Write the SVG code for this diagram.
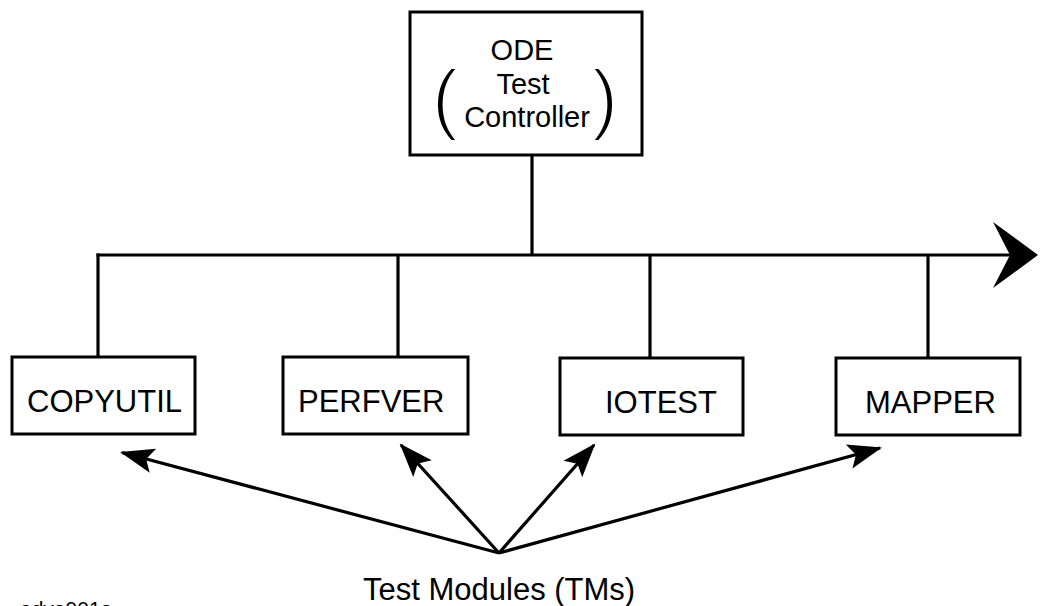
<svg xmlns="http://www.w3.org/2000/svg" width="1040" height="606" viewBox="0 0 1040 606">
<style>
.box{fill:#fff;stroke:#000;stroke-width:3}
.ln{fill:none;stroke:#000;stroke-width:3.2}
.t{font-family:"Liberation Sans",Arial,sans-serif;fill:#000}
.lbl{font-size:31px}
.top{font-size:29px;text-anchor:middle}
.par{font-size:78px;stroke:#fff;stroke-width:2.2px}
</style>
<defs>
<marker id="ah" markerUnits="userSpaceOnUse" markerWidth="40" markerHeight="30" viewBox="-36 -14 40 28" refX="0" refY="0" orient="auto">
<path d="M2,0 L-32,-12.5 L-25,0 L-32,12.5 Z" fill="#000"/>
</marker>
</defs>
<g id="connectors">
<line class="ln" x1="532" y1="155" x2="532" y2="255"/>
<line class="ln" x1="96.5" y1="255" x2="1012" y2="255"/>
<path d="M1038,255 L993,222 L1010,255 L993,288 Z" fill="#000"/>
<line class="ln" x1="98" y1="253.5" x2="98" y2="357"/>
<line class="ln" x1="398" y1="255" x2="398" y2="357"/>
<line class="ln" x1="650" y1="255" x2="650" y2="358"/>
<line class="ln" x1="928" y1="255" x2="928" y2="358"/>
<line class="ln" x1="499" y1="553" x2="122" y2="452.5" marker-end="url(#ah)"/>
<line class="ln" x1="499" y1="553" x2="401" y2="445" marker-end="url(#ah)"/>
<line class="ln" x1="499" y1="553" x2="594" y2="445" marker-end="url(#ah)"/>
<line class="ln" x1="499" y1="553" x2="880" y2="448" marker-end="url(#ah)"/>
</g>
<g id="controller">
<rect class="box" x="410" y="12" width="232" height="143"/>
<text class="t top" x="522" y="60">ODE</text>
<text class="t top" x="523" y="94">Test</text>
<text class="t top" x="527" y="127">Controller</text>
<text class="t par" x="432" y="125">(</text>
<text class="t par" x="592" y="125">)</text>
</g>
<g id="copyutil">
<rect class="box" x="12" y="357" width="183" height="77"/>
<text class="t lbl" x="27" y="412">COPYUTIL</text>
</g>
<g id="perfver">
<rect class="box" x="283" y="357" width="185" height="77"/>
<text class="t lbl" x="298" y="412">PERFVER</text>
</g>
<g id="iotest">
<rect class="box" x="560" y="358" width="183" height="77"/>
<text class="t lbl" x="605" y="413">IOTEST</text>
</g>
<g id="mapper">
<rect class="box" x="836" y="358" width="184" height="77"/>
<text class="t lbl" x="865" y="413">MAPPER</text>
</g>
<g id="test-modules">
<text class="t" x="363" y="600" font-size="31">Test Modules (TMs)</text>
</g>
<text class="t" x="20" y="616" font-size="21">adya901a</text>
</svg>
